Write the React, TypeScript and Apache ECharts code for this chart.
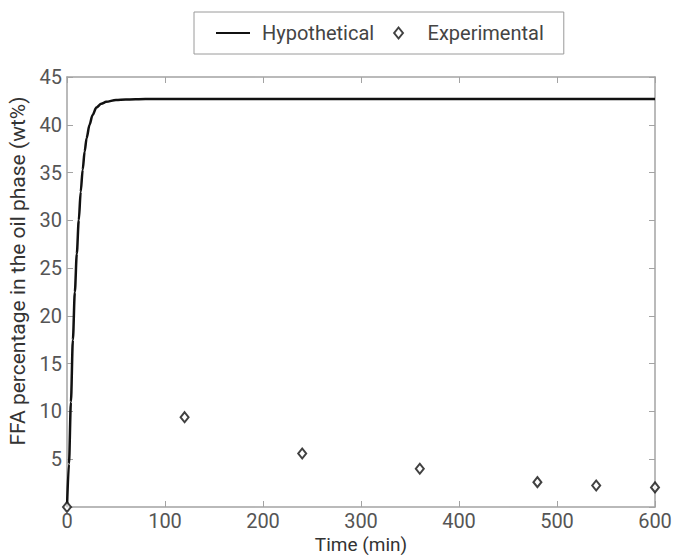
import React, { useEffect, useRef } from "react";
import * as echarts from "echarts";

const hypoTime = [0, 2, 4, 6, 8, 10, 12, 14, 16, 18, 20, 23, 26, 30, 35, 40, 50, 60, 80, 100, 200, 400, 600];
const hypoValue = [0, 4.5, 11, 17.5, 22.5, 26.5, 30, 33, 35.3, 37.2, 38.6, 40, 41, 41.8, 42.2, 42.4, 42.6, 42.65, 42.7, 42.7, 42.7, 42.7, 42.7];
const expTime = [0, 120, 240, 360, 480, 540, 600];
const expValue = [0, 9.4, 5.6, 4.0, 2.6, 2.25, 2.05];
const xTicks = [0, 100, 200, 300, 400, 500, 600];
const yTicks = [0, 5, 10, 15, 20, 25, 30, 35, 40, 45];

const FONT = "Roboto";
const AXIS_COLOR = "#a3a3a3";
const TEXT_COLOR = "#555555";

export default function App() {
  const ref = useRef<HTMLDivElement>(null);
  useEffect(() => {
    if (!ref.current) return;
    const chart = echarts.init(ref.current, undefined, { renderer: "svg" });
    const axisCommon = {
      axisLine: { show: true, onZero: false, lineStyle: { color: AXIS_COLOR, width: 1.5 } },
      axisTick: { show: true, inside: true, length: 6, lineStyle: { color: AXIS_COLOR, width: 1 } },
      splitLine: { show: false },
    };
    chart.setOption({
      animation: false,
      textStyle: { fontFamily: FONT },
      grid: { left: 67, right: 28, top: 77, bottom: 48, containLabel: false, outerBoundsMode: "none" },
      legend: {
        left: 194,
        top: 12,
        orient: "horizontal",
        borderColor: "#9a9a9a",
        borderWidth: 1,
        padding: [11, 20, 11, 22],
        itemWidth: 34,
        itemHeight: 11,
        itemGap: 19,
        symbolKeepAspect: true,
        textStyle: { fontFamily: FONT, fontSize: 20, color: "#444", padding: [0, 0, 0, 7] },
        data: [
          { name: "Hypothetical", icon: "path://M0,0 L34,0 L34,2 L0,2 Z" },
          { name: "Experimental", icon: "path://M4,0 L8,5 L4,10 L0,5 Z" },
        ],
      },
      xAxis: [
        {
          type: "value",
          min: xTicks[0],
          max: xTicks[xTicks.length - 1],
          interval: 100,
          position: "bottom",
          name: "Time (min)",
          nameLocation: "middle",
          nameGap: 37,
          nameMoveOverlap: false,
          nameTextStyle: { fontFamily: FONT, fontSize: 19, color: "#333", lineHeight: 21, verticalAlign: "middle" },
          axisLabel: { fontFamily: FONT, fontSize: 20, color: TEXT_COLOR, margin: 4 },
          ...axisCommon,
        },
        {
          type: "value",
          min: xTicks[0],
          max: xTicks[xTicks.length - 1],
          interval: 100,
          position: "top",
          axisLabel: { show: false },
          ...axisCommon,
        },
      ],
      yAxis: [
        {
          type: "value",
          min: yTicks[0],
          max: yTicks[yTicks.length - 1],
          interval: 5,
          position: "left",
          name: "FFA percentage in the oil phase (wt%)",
          nameLocation: "middle",
          nameGap: 28,
          nameTextStyle: { fontFamily: FONT, fontSize: 21, color: "#333", padding: [0, 0, 0, 42] },
          axisLabel: {
            fontFamily: FONT,
            fontSize: 20,
            color: TEXT_COLOR,
            margin: 5,
            formatter: (v: number) => (v === 0 ? "" : String(v)),
          },
          ...axisCommon,
        },
        {
          type: "value",
          min: yTicks[0],
          max: yTicks[yTicks.length - 1],
          interval: 5,
          position: "right",
          axisLabel: { show: false },
          ...axisCommon,
        },
      ],
      series: [
        {
          name: "Hypothetical",
          type: "line",
          xAxisIndex: 0,
          yAxisIndex: 0,
          data: hypoTime.map((t, i) => [t, hypoValue[i]]),
          showSymbol: false,
          symbol: "none",
          smooth: 0.3,
          smoothMonotone: "x",
          lineStyle: { color: "#111", width: 2.5 },
          itemStyle: { color: "#111" },
          z: 3,
        },
        {
          name: "Experimental",
          type: "scatter",
          xAxisIndex: 0,
          yAxisIndex: 0,
          data: expTime.map((t, i) => [t, expValue[i]]),
          symbol: "diamond",
          symbolSize: [8, 10],
          itemStyle: { color: "#fff", borderColor: "#111", borderWidth: 2 },
          z: 4,
        },
      ],
    });
    return () => chart.dispose();
  }, []);
  return <div ref={ref} style={{ width: 683, height: 555, position: "absolute", left: 0, top: 0 }} />;
}
